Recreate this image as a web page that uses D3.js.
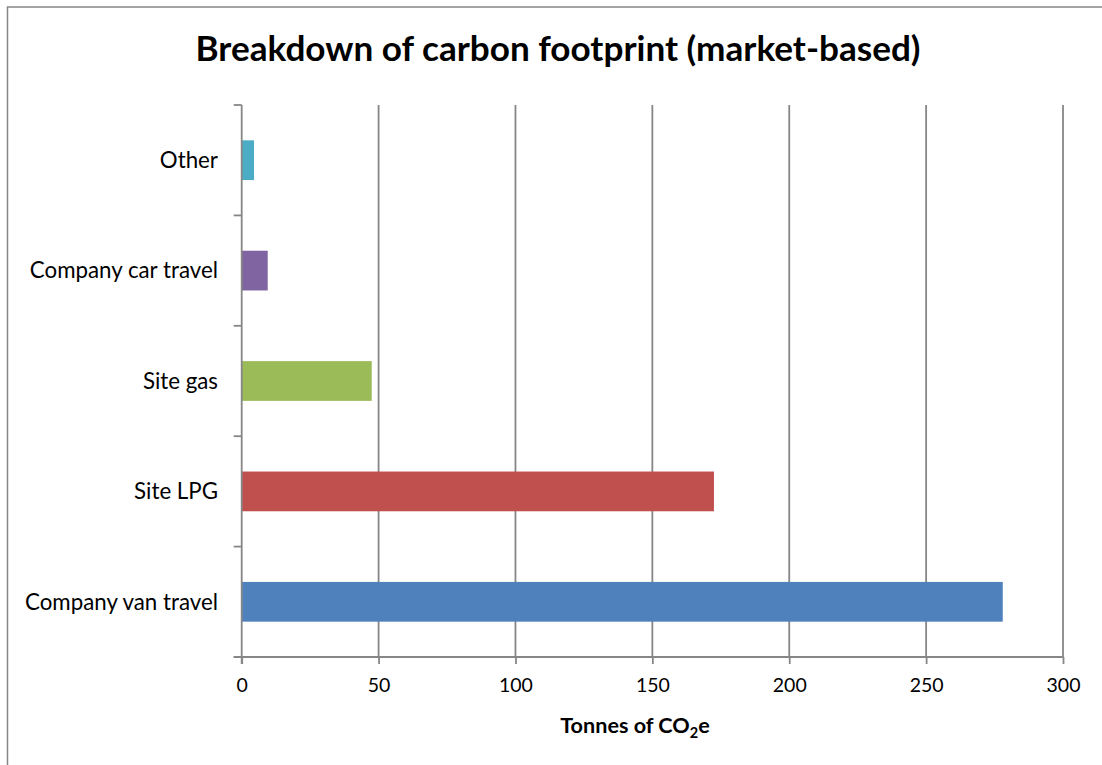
<!DOCTYPE html>
<html>
<head>
<meta charset="utf-8">
<script src="https://cdn.jsdelivr.net/npm/d3@7"></script>
<style>
  html, body { margin: 0; padding: 0; background: #fff; }
  svg { display: block; font-family: Lato, "Open Sans", sans-serif; }
</style>
</head>
<body>
<svg id="chart" width="1102" height="765"></svg>
<script>
const categories = ["Other", "Company car travel", "Site gas", "Site LPG", "Company van travel"];
const values = [4.5, 9.5, 47.5, 172.5, 278];
const colors = ["#4BACC6", "#8064A2", "#9BBB59", "#C0504D", "#4F81BD"];
const xTicks = [0, 50, 100, 150, 200, 250, 300];
const titleText = "Breakdown of carbon footprint (market-based)";

(function () {
const svg = d3.select("#chart");
const gridColor = "#868686";

// outer chart border
svg.append("rect")
  .attr("x", 7.5).attr("y", 7).attr("width", 1200).attr("height", 800)
  .attr("fill", "none").attr("stroke", gridColor).attr("stroke-width", 1.5);

const pLeft = 241.7, pRight = 1063, pTop = 105, pBottom = 657;

const x = d3.scaleLinear().domain([0, 300]).range([pLeft, pRight]);
const y = d3.scaleBand().domain(categories).range([pTop, pBottom])
  .paddingInner(0.64).paddingOuter(0.32);

// gridlines
svg.append("g").selectAll("line").data(xTicks.filter(d => d > 0)).join("line")
  .attr("x1", d => x(d)).attr("x2", d => x(d))
  .attr("y1", pTop).attr("y2", pBottom)
  .attr("stroke", gridColor).attr("stroke-width", 1.8);

// bars
svg.append("g").selectAll("rect").data(categories).join("rect")
  .attr("x", x(0))
  .attr("y", d => y(d))
  .attr("width", (d, i) => x(values[i]) - x(0))
  .attr("height", y.bandwidth())
  .attr("fill", (d, i) => colors[i]);

// x axis
const xAxis = d3.axisBottom(x).tickValues(xTicks).tickSize(7).tickSizeOuter(0).tickPadding(14);
const gx = svg.append("g").attr("transform", `translate(0,${pBottom})`).call(xAxis);
gx.select(".domain").attr("d", `M${pLeft - 8},0H${pRight}`).attr("stroke", gridColor).attr("stroke-width", 1.8);
gx.selectAll(".tick line").attr("stroke", gridColor).attr("stroke-width", 1.8);
gx.selectAll(".tick text").attr("font-size", 19.5).attr("fill", "#000")
  .attr("font-family", "Lato, sans-serif");

// y axis line
const step = y.step();
const boundaries = d3.range(categories.length + 1).map(i => pTop + i * step);
svg.append("line").attr("x1", pLeft).attr("x2", pLeft).attr("y1", pTop).attr("y2", pBottom + 7)
  .attr("stroke", gridColor).attr("stroke-width", 1.8);
svg.append("g").selectAll("line").data(boundaries).join("line")
  .attr("x1", pLeft - 8).attr("x2", pLeft)
  .attr("y1", d => d).attr("y2", d => d)
  .attr("stroke", gridColor).attr("stroke-width", 1.8);

// category labels
svg.append("g").selectAll("text").data(categories).join("text")
  .attr("x", 218)
  .attr("y", d => y(d) + y.bandwidth() / 2)
  .attr("dy", "0.35em")
  .attr("text-anchor", "end")
  .attr("font-size", 22.3)
  .attr("fill", "#000")
  .text(d => d);

// title
svg.append("text")
  .attr("x", 558).attr("y", 61)
  .attr("text-anchor", "middle")
  .attr("font-size", 34).attr("font-weight", "bold")
  .attr("textLength", 725).attr("lengthAdjust", "spacingAndGlyphs")
  .attr("fill", "#000")
  .text(titleText);

// axis title
const at = svg.append("text")
  .attr("x", 635).attr("y", 733)
  .attr("text-anchor", "middle")
  .attr("font-size", 21.6).attr("font-weight", "bold")
  .attr("fill", "#000");
at.append("tspan").text("Tonnes of CO");
at.append("tspan").attr("font-size", 14.5).attr("dy", 5).text("2");
at.append("tspan").attr("dy", -5).text("e");
})();
</script>
</body>
</html>
